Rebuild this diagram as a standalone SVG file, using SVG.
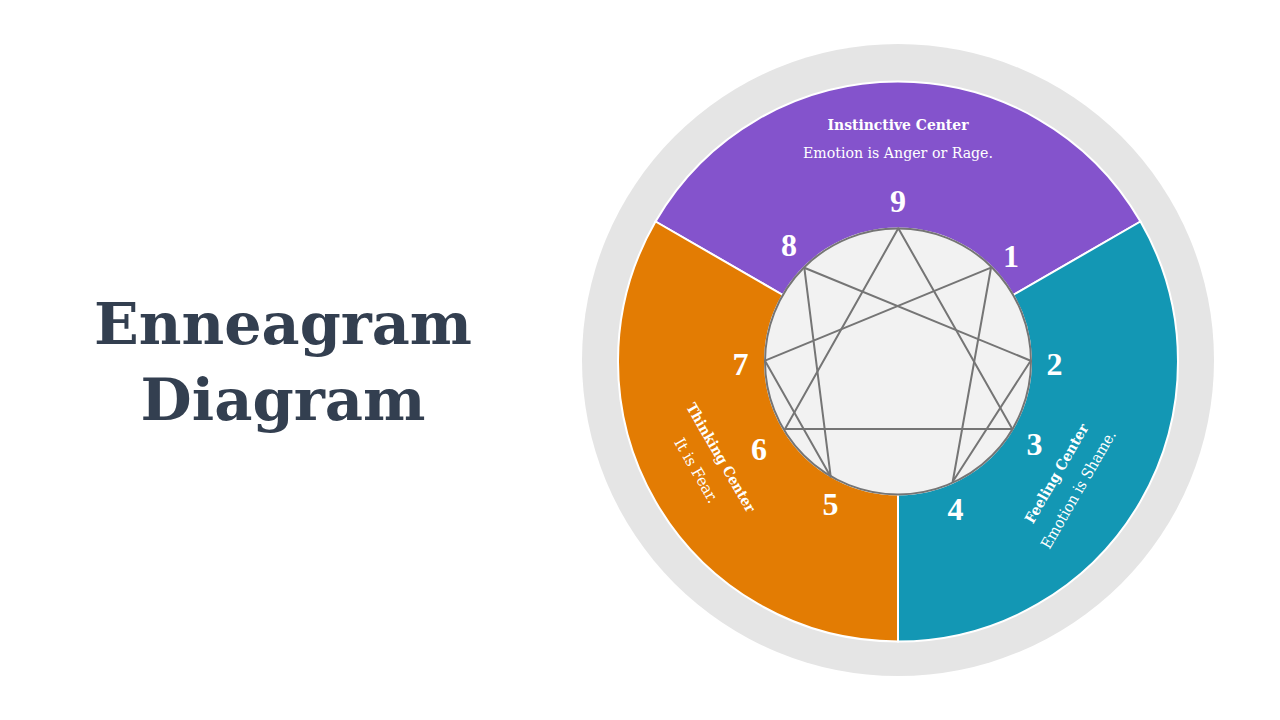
<svg xmlns="http://www.w3.org/2000/svg" width="1280" height="720" viewBox="0 0 1280 720">
<style>
.title{font-family:"DejaVu Serif","Liberation Serif",serif;font-weight:bold;font-size:58px;fill:#333F50;text-anchor:middle}
.num{font-family:"Liberation Serif","DejaVu Serif",serif;font-weight:bold;font-size:32px;fill:#FFFFFF;text-anchor:middle}
.hd{font-family:"DejaVu Serif","Liberation Serif",serif;font-weight:bold;font-size:14.5px;fill:#FFFFFF;text-anchor:middle}
.sub{font-family:"DejaVu Serif","Liberation Serif",serif;font-size:15.5px;fill:#FFFFFF;text-anchor:middle}
.seg{stroke:#FFFFFF;stroke-width:2}
.edge{fill:none;stroke:#757575;stroke-width:2;stroke-linejoin:round}
</style>
<rect width="1280" height="720" fill="#FFFFFF"/>
<g id="title">
<text class="title" x="283" y="344" textLength="378" lengthAdjust="spacingAndGlyphs">Enneagram</text>
<text class="title" x="283" y="420" textLength="285" lengthAdjust="spacingAndGlyphs">Diagram</text>
</g>
<g id="outer-ring">
<circle cx="898" cy="360" r="316" fill="#E5E5E5"/>
</g>
<g id="instinctive-center">
<path class="seg" fill="#8453CC" d="M 655.51 221.5 A 280 280 0 0 1 1140.49 221.5 L 1013.18 295 A 133 133 0 0 0 782.82 295 Z"/>
<text class="hd" x="898" y="129.5" textLength="141" lengthAdjust="spacingAndGlyphs">Instinctive Center</text>
<text class="sub" x="898" y="157.5" textLength="190" lengthAdjust="spacingAndGlyphs">Emotion is Anger or Rage.</text>
</g>
<g id="feeling-center">
<path class="seg" fill="#1397B4" d="M 1140.49 221.5 A 280 280 0 0 1 898 641.5 L 898 494.5 A 133 133 0 0 0 1013.18 295 Z"/>
<g transform="translate(1061 476) rotate(-60)">
<text class="hd" x="0" y="0" textLength="112" lengthAdjust="spacingAndGlyphs">Feeling Center</text>
<text class="sub" x="-3" y="27" textLength="134" lengthAdjust="spacingAndGlyphs">Emotion is Shame.</text>
</g>
</g>
<g id="thinking-center">
<path class="seg" fill="#E37C03" d="M 898 641.5 A 280 280 0 0 1 655.51 221.5 L 782.82 295 A 133 133 0 0 0 898 494.5 Z"/>
<g transform="translate(716.5 460) rotate(60)">
<text class="hd" x="0" y="0" textLength="123" lengthAdjust="spacingAndGlyphs">Thinking Center</text>
<text class="sub" x="-1" y="28" textLength="72" lengthAdjust="spacingAndGlyphs">It is Fear.</text>
</g>
</g>
<g id="enneagram-circle">
<circle cx="898" cy="361.5" r="133" fill="#F2F2F2" stroke="#757575" stroke-width="2"/>
</g>
<g id="connectors">
<polygon class="edge" points="898.3,228.3 1012.3,429 785,429"/>
<polygon class="edge" points="991,267.7 952.7,481.7 1030.7,360.7 804.3,267.7 830.7,476.7 765,360.7"/>
</g>
<g id="numbers">
<g id="point-9"><text class="num" x="898" y="212">9</text></g>
<g id="point-1"><text class="num" x="1011" y="267">1</text></g>
<g id="point-2"><text class="num" x="1054.5" y="375">2</text></g>
<g id="point-3"><text class="num" x="1034.5" y="455">3</text></g>
<g id="point-4"><text class="num" x="955.5" y="520">4</text></g>
<g id="point-5"><text class="num" x="830.5" y="515">5</text></g>
<g id="point-6"><text class="num" x="759" y="460">6</text></g>
<g id="point-7"><text class="num" x="740.5" y="375">7</text></g>
<g id="point-8"><text class="num" x="789" y="256">8</text></g>
</g>
</svg>
